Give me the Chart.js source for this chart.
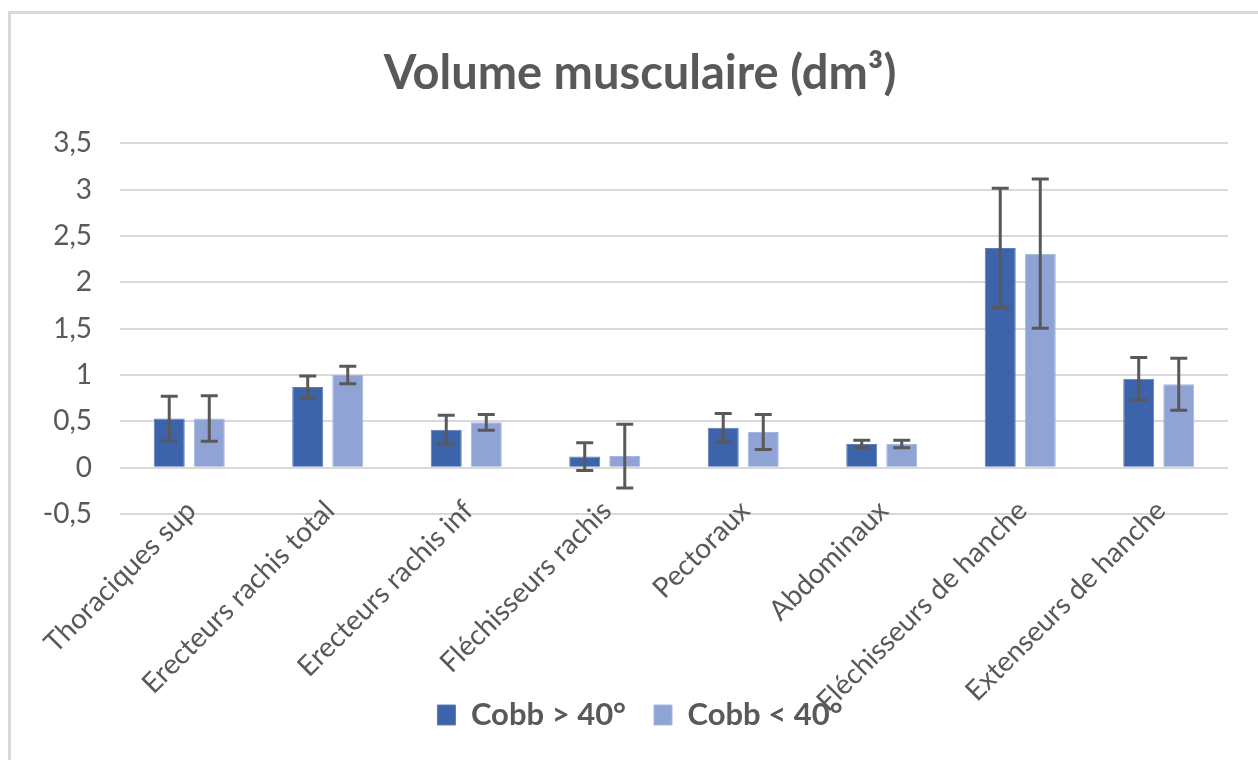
<!DOCTYPE html>
<html lang="fr">
<head>
<meta charset="utf-8">
<title>Volume musculaire</title>
<script src="https://cdn.jsdelivr.net/npm/chart.js@4.4.1/dist/chart.umd.min.js"></script>
<style>
  html, body { margin:0; padding:0; background:#fff; overflow:hidden; width:1258px; height:760px; }
  .card {
    position:absolute; left:8px; top:11px;
    width:1247px; height:780px;
    border-left:3px solid #d9d9d9; border-top:3px solid #d9d9d9;
    background:#fff;
  }
  #chart { display:block; }
</style>
</head>
<body>
<div class="card">
  <canvas id="chart" width="1247" height="780"></canvas>
</div>
<script>
// ── DONNÉES ─────────────────────────────────────────────
const categories = [
  'Thoraciques sup', 'Erecteurs rachis total', 'Erecteurs rachis inf', 'Fléchisseurs rachis',
  'Pectoraux', 'Abdominaux', 'Fléchisseurs de hanche', 'Extenseurs de hanche'
];
const seriesNames = ['Cobb > 40°', 'Cobb < 40°'];
const cobbSup    = [0.53, 0.87, 0.41, 0.12, 0.43, 0.255, 2.37, 0.96];
const cobbSupErr = [0.24, 0.12, 0.155, 0.15, 0.155, 0.04, 0.645, 0.23];
const cobbInf    = [0.53, 1.00, 0.49, 0.125, 0.385, 0.255, 2.31, 0.90];
const cobbInfErr = [0.245, 0.095, 0.085, 0.345, 0.19, 0.04, 0.805, 0.28];
const yTicks = [-0.5, 0, 0.5, 1, 1.5, 2, 2.5, 3, 3.5];

const GREY = '#595959';
const FONT = 'Lato, "Open Sans", sans-serif';
Chart.defaults.font.family = FONT;
Chart.defaults.color = GREY;

// ── BARRES D'ERREUR ─────────────────────────────────────
const errorBars = {
  id:'errorBars',
  afterDatasetsDraw(chart){
    const { ctx, scales:{ y } } = chart;
    ctx.save();
    ctx.strokeStyle = GREY;
    ctx.lineWidth = 3;
    chart.data.datasets.forEach((ds, di)=>{
      const meta = chart.getDatasetMeta(di);
      meta.data.forEach((bar, i)=>{
        const v = ds.data[i], e = ds.errors[i];
        const yTop = y.getPixelForValue(v + e);
        const yBot = y.getPixelForValue(v - e);
        const x = bar.x, cap = 8.5;
        ctx.beginPath();
        ctx.moveTo(x, yTop); ctx.lineTo(x, yBot);
        ctx.moveTo(x - cap, yTop); ctx.lineTo(x + cap, yTop);
        ctx.moveTo(x - cap, yBot); ctx.lineTo(x + cap, yBot);
        ctx.stroke();
      });
    });
    ctx.restore();
  }
};

// ── ÉTIQUETTES DES CATÉGORIES (45°, collées à l'axe comme Excel) ──
const catLabels = {
  id:'catLabels',
  afterDraw(chart){
    const { ctx, scales:{ x }, chartArea } = chart;
    ctx.save();
    ctx.font = '28px ' + FONT;
    ctx.fillStyle = GREY;
    ctx.textAlign = 'right';
    ctx.textBaseline = 'middle';
    chart.data.labels.forEach((lbl, i)=>{
      ctx.save();
      ctx.translate(x.getPixelForTick(i) + 2, chartArea.bottom - 8);
      ctx.rotate(-Math.PI/4);
      ctx.fillText(lbl, 0, 0);
      ctx.restore();
    });
    ctx.restore();
  }
};

// ── GRAPHIQUE ───────────────────────────────────────────
new Chart(document.getElementById('chart'), {
  type:'bar',
  data:{
    labels: categories,
    datasets:[
      { label:seriesNames[0], data:cobbSup, errors:cobbSupErr,
        backgroundColor:'#3d64ab', borderColor:'#5a7cbc', borderWidth:1 },
      { label:seriesNames[1], data:cobbInf, errors:cobbInfErr,
        backgroundColor:'#8fa3d4', borderColor:'#a6b6de', borderWidth:1 }
    ]
  },
  options:{
    responsive:false,
    animation:false,
    categoryPercentage:0.578,
    barPercentage:0.775,
    layout:{ padding:{ left:29, right:18, top:0, bottom:53.5 } },
    plugins:{
      title:{
        display:true,
        text:'Volume musculaire (dm³)',
        color:GREY,
        font:{ size:47, weight:'bold' },
        padding:{ top:32, bottom:41 }
      },
      legend:{
        position:'bottom',
        labels:{
          color:GREY,
          font:{ size:31, weight:'bold' },
          boxWidth:18, boxHeight:20,
          padding:28
        }
      },
      tooltip:{ enabled:false }
    },
    scales:{
      y:{
        min:-0.5, max:3.5,
        afterFit(scale){ scale.width = 80; },
        afterBuildTicks(scale){ scale.ticks = yTicks.map(v=>({ value:v })); },
        ticks:{
          padding:28,
          font:{ size:28 },
          color:GREY,
          callback:(v)=>String(v).replace('.', ',')
        },
        grid:{ color:'#d9d9d9', lineWidth:2, drawTicks:false },
        border:{ display:false }
      },
      // marge droite : axe vide pour garder titre et légende centrés
      y2:{
        position:'right',
        afterFit(scale){ scale.width = 12; },
        ticks:{ display:false },
        grid:{ display:false },
        border:{ display:false }
      },
      x:{
        afterFit(scale){ scale.height = 157.5; },
        ticks:{ display:false },
        grid:{ display:false },
        border:{ display:false }
      }
    }
  },
  plugins:[errorBars, catLabels]
});
</script>
</body>
</html>
